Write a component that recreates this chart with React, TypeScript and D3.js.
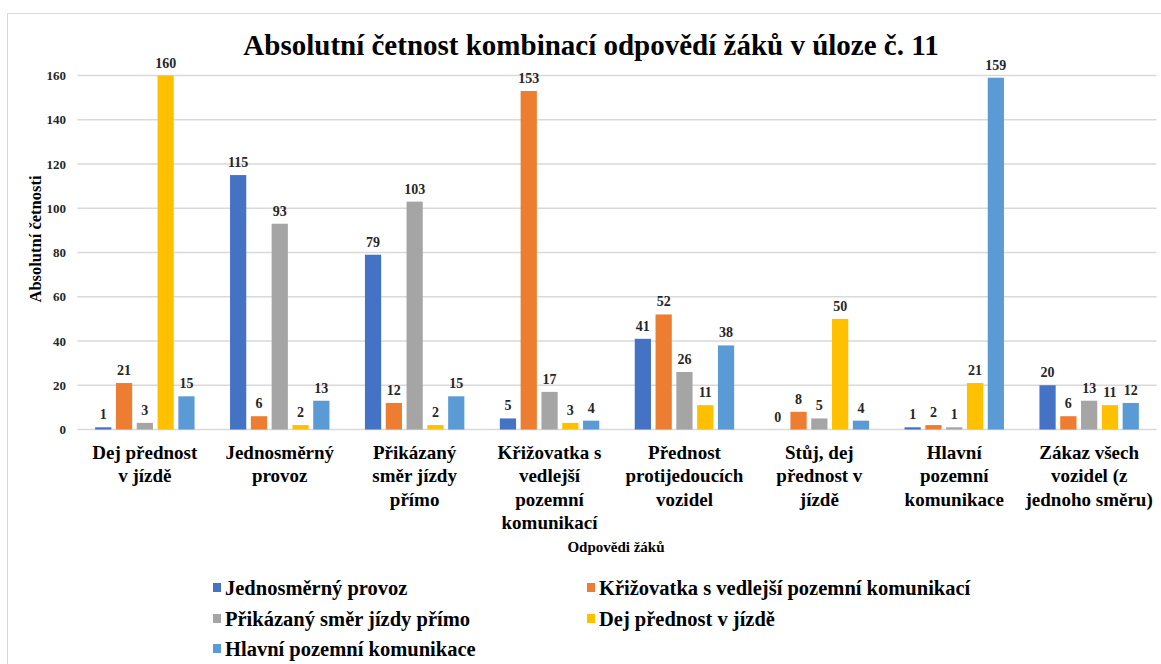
import React from "react";
import * as d3 from "d3";

const categories: string[][] = [
  ["Dej přednost", "v jízdě"],
  ["Jednosměrný", "provoz"],
  ["Přikázaný", "směr jízdy", "přímo"],
  ["Křižovatka s", "vedlejší", "pozemní", "komunikací"],
  ["Přednost", "protijedoucích", "vozidel"],
  ["Stůj, dej", "přednost v", "jízdě"],
  ["Hlavní", "pozemní", "komunikace"],
  ["Zákaz všech", "vozidel (z", "jednoho směru)"],
];

const seriesNames = [
  "Jednosměrný provoz",
  "Křižovatka s vedlejší pozemní komunikací",
  "Přikázaný směr jízdy přímo",
  "Dej přednost v jízdě",
  "Hlavní pozemní komunikace",
];

const jednosmerny = [1, 115, 79, 5, 41, 0, 1, 20];
const krizovatka = [21, 6, 12, 153, 52, 8, 2, 6];
const prikazany = [3, 93, 103, 17, 26, 5, 1, 13];
const dejPrednost = [160, 2, 2, 3, 11, 50, 21, 11];
const hlavni = [15, 13, 15, 4, 38, 4, 159, 12];

const yTicks = [0, 20, 40, 60, 80, 100, 120, 140, 160];

const colors = ["#4472C4", "#ED7D31", "#A5A5A5", "#FFC000", "#5B9BD5"];

const seriesValues = [jednosmerny, krizovatka, prikazany, dejPrednost, hlavni];

const W = 1161;
const H = 664;
const left = 77.4;
const right = 1156.6;
const top = 75.5;
const bottom = 429.5;
const FONT = '"Liberation Serif", "DejaVu Serif", "Times New Roman", serif';

export default function App() {
  const x0 = d3
    .scaleBand<number>()
    .domain(d3.range(categories.length))
    .range([left, right])
    .paddingInner(0)
    .paddingOuter(0);
  const groupInner = 104;
  const x1 = d3
    .scaleBand<number>()
    .domain(d3.range(seriesValues.length))
    .range([(x0.bandwidth() - groupInner) / 2, (x0.bandwidth() + groupInner) / 2])
    .paddingInner(0.22)
    .paddingOuter(0.11);
  const y = d3.scaleLinear().domain([0, 160]).range([bottom, top]);

  const legendPos = [
    { x: 213, y: 588 },
    { x: 587, y: 588 },
    { x: 213, y: 619 },
    { x: 587, y: 619 },
    { x: 213, y: 649 },
  ];

  return (
    <svg
      width={W}
      height={H}
      style={{ position: "absolute", left: 0, top: 0, background: "#fff", fontFamily: FONT }}
    >
      <rect x={0} y={0} width={W} height={H} fill="#fff" />
      <rect x={7.5} y={13.5} width={1170} height={700} fill="none" stroke="#d9d9d9" strokeWidth={1} />
      <text
        x={591}
        y={55}
        textAnchor="middle"
        fontSize={29}
        fontWeight="bold"
        fill="#000"
      >
        Absolutní četnost kombinací odpovědí žáků v úloze č. 11
      </text>

      {yTicks.map((t) => (
        <g key={t}>
          <line x1={left} x2={right} y1={y(t)} y2={y(t)} stroke="#d9d9d9" strokeWidth={1.3} />
          <text
            x={66}
            y={y(t) + 4.5}
            textAnchor="end"
            fontSize={13}
            fontWeight="bold"
            fill="#262626"
          >
            {t}
          </text>
        </g>
      ))}

      <text
        transform={`translate(40.5,239) rotate(-90)`}
        textAnchor="middle"
        fontSize={16.5}
        fontWeight="bold"
        fill="#000"
      >
        Absolutní četnosti
      </text>

      {categories.map((cat, i) => (
        <g key={i} transform={`translate(${x0(i)},0)`}>
          {seriesValues.map((vals, s) => {
            const v = vals[i];
            const bx = x1(s)!;
            return (
              <g key={s}>
                <rect
                  x={bx}
                  y={y(v)}
                  width={x1.bandwidth()}
                  height={bottom - y(v)}
                  fill={colors[s]}
                />
                <text
                  x={bx + x1.bandwidth() / 2}
                  y={y(v) - 8}
                  textAnchor="middle"
                  fontSize={14}
                  fontWeight="bold"
                  fill="#262626"
                >
                  {v}
                </text>
              </g>
            );
          })}
          {cat.map((line, li) => (
            <text
              key={li}
              x={x0.bandwidth() / 2}
              y={459 + li * 23.3}
              textAnchor="middle"
              fontSize={19}
              fontWeight="bold"
              fill="#000"
            >
              {line}
            </text>
          ))}
        </g>
      ))}

      <text
        x={616}
        y={552}
        textAnchor="middle"
        fontSize={15}
        fontWeight="bold"
        fill="#000"
      >
        Odpovědi žáků
      </text>

      {seriesNames.map((name, s) => (
        <g key={s} transform={`translate(${legendPos[s].x},${legendPos[s].y})`}>
          <rect x={0} y={-5} width={8} height={9} fill={colors[s]} />
          <text x={12} y={6.5} fontSize={20.5} fontWeight="bold" fill="#000">
            {name}
          </text>
        </g>
      ))}
    </svg>
  );
}
